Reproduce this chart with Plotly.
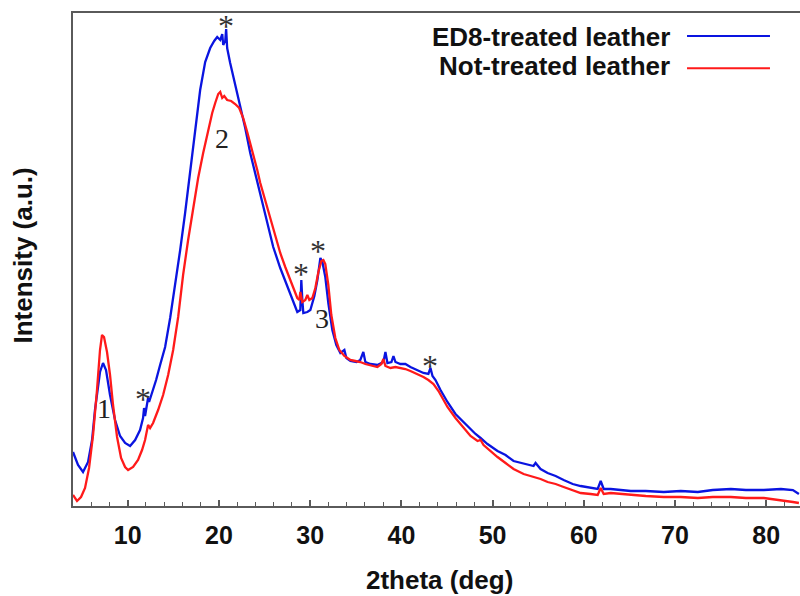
import plotly.graph_objects as go

# 2theta positions (deg) and intensities (a.u.) for the ED8-treated sample
ed8_theta = [4.00, 4.55, 5.10, 5.65, 6.09, 6.41, 6.96, 7.29, 7.62, 8.06, 8.61, 9.16, 9.71,
             10.26, 10.81, 11.35, 11.68, 11.79, 11.90, 12.12, 12.23, 12.34, 12.67, 13.11,
             13.55, 14.10, 14.65, 15.20, 15.75, 16.29, 16.84, 17.39, 17.94, 18.49, 19.04,
             19.48, 19.81, 20.14, 20.36, 20.47, 20.69, 20.79, 20.90, 21.23, 21.78, 22.33,
             22.88, 23.43, 24.20, 24.86, 25.41, 25.95, 26.72, 27.49, 28.15, 28.59, 28.92,
             29.03, 29.14, 29.25, 29.69, 30.02, 30.46, 30.79, 31.12, 31.34, 31.66, 31.99,
             32.43, 32.87, 33.31, 33.75, 33.97, 34.41, 35.07, 35.50, 35.83, 36.05, 36.60,
             37.37, 38.03, 38.25, 38.47, 38.91, 39.13, 39.35, 39.89, 40.44, 40.99, 41.76,
             42.42, 42.96, 43.19, 43.41, 43.74, 44.29, 45.05, 45.93, 46.81, 47.58, 48.13,
             48.68, 49.44, 50.54, 51.42, 52.30, 53.07, 53.84, 54.49, 54.71, 55.26, 56.03,
             56.91, 57.79, 58.78, 59.65, 60.75, 61.52, 61.85, 62.18, 62.95, 64.04, 65.14,
             66.79, 68.76, 70.63, 72.50, 74.14, 76.12, 77.77, 79.74, 81.61, 82.92, 83.58]
ed8_int = [54, 41, 34, 44, 66, 96, 134, 143, 136, 111, 86, 70, 63,
           60, 66, 76, 88, 98, 90, 101, 108, 104, 113, 126,
           141, 159, 188, 221, 256, 293, 336, 378, 416, 444, 458,
           465, 469, 466, 472, 461, 465, 477, 458, 443, 421, 401,
           378, 353, 324, 299, 278, 259, 238, 219, 204, 194, 196,
           226, 206, 193, 194, 196, 210, 226, 248, 244, 229, 203,
           176, 161, 153, 156, 148, 145, 144, 146, 154, 144, 142,
           141, 144, 154, 143, 144, 150, 144, 142, 142, 139, 136,
           133, 132, 138, 130, 126, 116, 104, 92, 84, 76, 72,
           68, 62, 55, 51, 45, 43, 41, 40, 43, 37, 33,
           30, 26, 22, 20, 18, 17, 25, 17, 17, 16, 15,
           15, 14, 15, 14, 16, 17, 16, 16, 17, 16, 12]

# 2theta positions (deg) and intensities (a.u.) for the untreated sample
raw_theta = [4.00, 4.44, 4.88, 5.32, 5.76, 6.20, 6.63, 6.96, 7.18, 7.40, 7.73, 8.06, 8.39,
             8.83, 9.27, 9.71, 10.04, 10.59, 11.13, 11.57, 11.90, 12.12, 12.23, 12.45,
             12.78, 13.33, 13.88, 14.43, 14.98, 15.53, 16.07, 16.62, 17.17, 17.72, 18.27,
             18.82, 19.26, 19.59, 19.92, 20.14, 20.36, 20.58, 20.90, 21.34, 21.78, 22.22,
             22.66, 23.10, 23.43, 23.87, 24.20, 24.53, 24.75, 25.08, 25.63, 26.17, 26.72,
             27.27, 27.82, 28.26, 28.59, 28.81, 28.92, 29.14, 29.47, 29.69, 29.91, 30.24,
             30.57, 30.90, 31.23, 31.45, 31.66, 31.99, 32.32, 32.76, 33.20, 33.75, 34.41,
             34.95, 35.50, 36.05, 36.60, 37.37, 37.81, 38.03, 38.25, 38.80, 39.35, 39.89,
             40.44, 40.99, 41.76, 42.42, 42.96, 43.52, 44.07, 44.62, 45.05, 45.93, 46.81,
             47.58, 48.35, 48.68, 49.01, 49.77, 50.54, 51.42, 52.30, 53.40, 54.49, 55.26,
             56.03, 56.91, 57.79, 58.78, 59.65, 60.75, 61.52, 61.85, 62.18, 62.95, 64.04,
             65.14, 66.79, 68.76, 70.63, 72.50, 74.14, 76.12, 77.77, 79.74, 81.61, 82.92,
             83.58]
raw_int = [11, 5, 9, 18, 38, 71, 116, 156, 171, 169, 154, 131, 101,
           69, 48, 39, 36, 39, 46, 56, 66, 74, 81, 78,
           83, 96, 111, 131, 156, 189, 231, 266, 299, 328, 353,
           376, 393, 403, 412, 414, 408, 410, 406, 405, 402, 398,
           388, 374, 363, 348, 336, 323, 316, 303, 286, 269, 253,
           239, 226, 216, 208, 206, 214, 204, 206, 211, 206, 208,
           218, 234, 245, 246, 242, 221, 191, 168, 156, 150, 146,
           145, 144, 142, 141, 139, 142, 147, 140, 138, 139, 138,
           137, 135, 132, 129, 126, 122, 115, 106, 99, 88, 78,
           70, 65, 66, 61, 55, 49, 43, 37, 32, 29, 27,
           24, 22, 19, 16, 13, 12, 11, 18, 12, 13, 12,
           11, 10, 9, 9, 8, 9, 9, 8, 8, 6, 4,
           3]

# Peak labels and reflection markers
peak_labels = ["1", "2", "3"]
peak_theta = [7.4, 20.36, 31.34]
peak_int = [98, 368, 188]

star_theta = [11.68, 20.79, 29.03, 30.90, 43.19]
star_int = [113, 486, 238, 261, 146]

series_names = ["ED8-treated leather", "Not-treated leather"]
series_colors = ["#0a14e0", "#ff1a1a"]

x_range = [4, 83.7]
y_range = [0, 493]
x_ticks = [10, 20, 30, 40, 50, 60, 70, 80]

axis_color = "#5a5a5a"
sans = "Liberation Sans, Arial, sans-serif"
serif = "Liberation Serif, Times New Roman, serif"

fig = go.Figure()
fig.add_trace(go.Scatter(x=ed8_theta, y=ed8_int, mode="lines", name=series_names[0],
                         line=dict(color=series_colors[0], width=2.3), showlegend=False))
fig.add_trace(go.Scatter(x=raw_theta, y=raw_int, mode="lines", name=series_names[1],
                         line=dict(color=series_colors[1], width=2.3), showlegend=False))

annotations = []
for lab, xv, yv in zip(peak_labels, peak_theta, peak_int):
    annotations.append(dict(x=xv, y=yv, xref="x", yref="y", text=lab, showarrow=False,
                            font=dict(family=serif, size=28, color="#222222"),
                            xanchor="center", yanchor="middle"))
for xv, yv in zip(star_theta, star_int):
    annotations.append(dict(x=xv, y=yv, xref="x", yref="y", text="*", showarrow=False,
                            font=dict(family=serif, size=32, color="#333333"),
                            xanchor="center", yanchor="middle", yshift=-6))

# Legend drawn to the right of the labels
legend_y = [0.951, 0.892]
line_y = [0.9533, 0.888]
shapes = []
for name, col, ty, ly in zip(series_names, series_colors, legend_y, line_y):
    annotations.append(dict(x=0.824, y=ty, xref="paper", yref="paper", text="<b>%s</b>" % name,
                            showarrow=False, xanchor="right", yanchor="middle",
                            font=dict(family=sans, size=26, color="#111111")))
    shapes.append(dict(type="line", xref="paper", yref="paper", x0=0.8446, x1=0.9587,
                       y0=ly, y1=ly, line=dict(color=col, width=2)))

# Axis titles
annotations.append(dict(x=0.504, y=-0.150, xref="paper", yref="paper",
                        text="<b>2theta (deg)</b>", showarrow=False,
                        xanchor="center", yanchor="middle",
                        font=dict(family=sans, size=26, color="#111111")))
annotations.append(dict(x=-0.0688, y=0.508, xref="paper", yref="paper",
                        text="<b>Intensity (a.u.)</b>", showarrow=False, textangle=-90,
                        xanchor="center", yanchor="middle",
                        font=dict(family=sans, size=26, color="#111111")))

fig.update_layout(
    width=800, height=596,
    margin=dict(l=73, r=0, t=13, b=90),
    paper_bgcolor="white", plot_bgcolor="white",
    annotations=annotations, shapes=shapes,
    showlegend=False,
)
fig.update_xaxes(
    range=x_range, tickvals=x_ticks, ticks="inside", ticklen=6, tickwidth=1.5,
    tickcolor=axis_color, showline=True, linecolor=axis_color, linewidth=2, mirror=True,
    showgrid=False, zeroline=False, ticklabelstandoff=6,
    tickfont=dict(family=sans, size=25, color="#111111", weight="bold"),
    minor=dict(dtick=2, tick0=0, ticks="inside", ticklen=4, tickwidth=1.2, tickcolor=axis_color),
)
fig.update_yaxes(
    range=y_range, showticklabels=False, ticks="", showline=True, linecolor=axis_color,
    linewidth=2, mirror=False, showgrid=False, zeroline=False,
)

fig.write_html("out.html")
